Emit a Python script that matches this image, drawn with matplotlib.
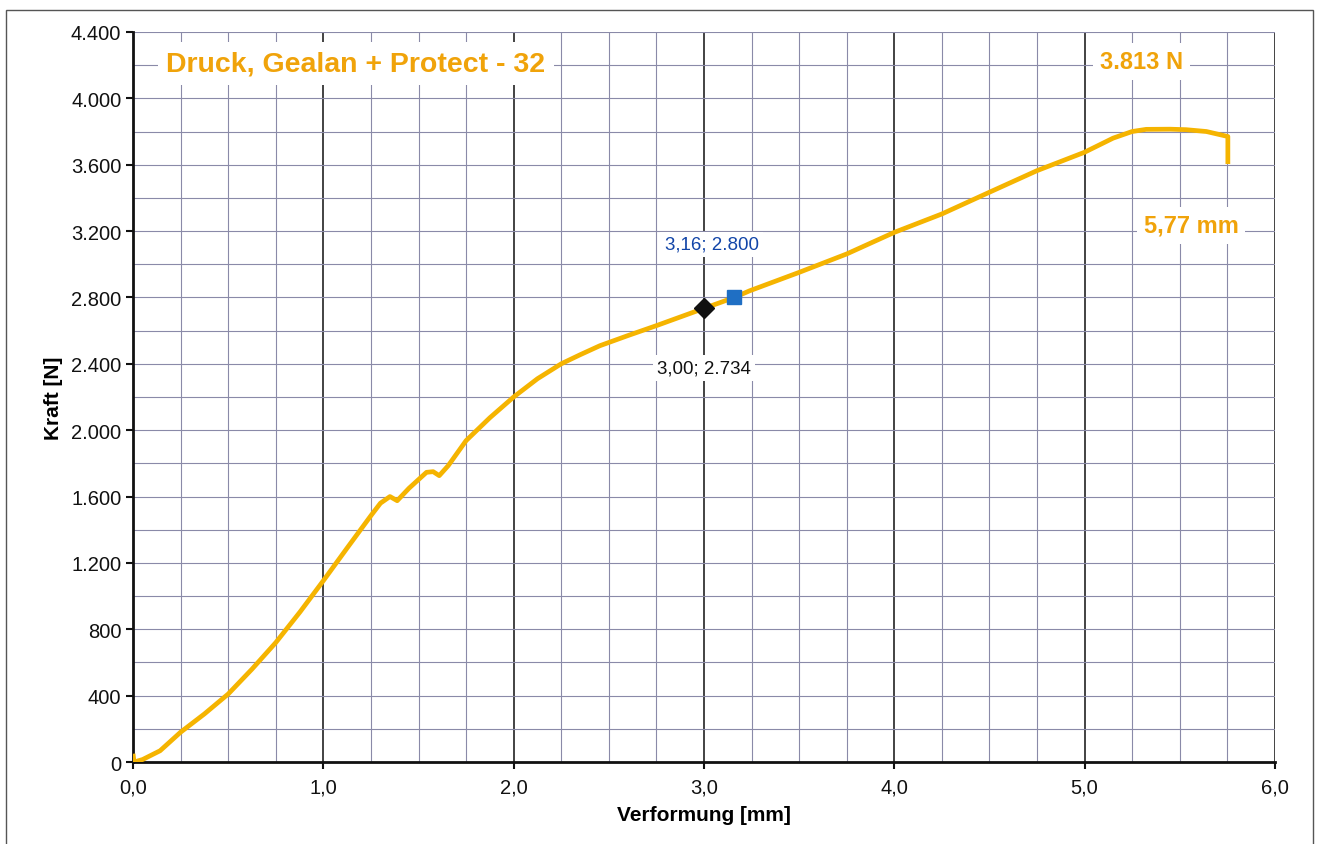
import matplotlib
matplotlib.use('Agg')
import matplotlib.pyplot as plt
from matplotlib.ticker import FuncFormatter, MultipleLocator
from matplotlib.patches import Rectangle

plt.rcParams['font.family'] = ['Liberation Sans', 'DejaVu Sans']

# Kraft-Weg-Kurve
weg = [0.0, 0.005, 0.05, 0.142, 0.25, 0.375, 0.5, 0.625, 0.75, 0.877, 1.0, 1.125,
       1.25, 1.3, 1.35, 1.388, 1.45, 1.542, 1.577, 1.609, 1.656, 1.75, 1.875,
       2.0, 2.125, 2.25, 2.35, 2.453, 2.6, 2.75, 3.0, 3.16, 3.24, 3.5, 3.75,
       4.0, 4.25, 4.5, 4.75, 5.0, 5.15, 5.25, 5.324, 5.45, 5.534, 5.64, 5.753, 5.753]
kraft = [50, 0, 15, 68, 180, 290, 410, 560, 720, 904, 1093, 1290,
         1485, 1560, 1600, 1575, 1650, 1746, 1750, 1726, 1786, 1937, 2075,
         2200, 2310, 2400, 2455, 2509, 2570, 2630, 2734, 2800, 2840, 2951, 3062,
         3192, 3303, 3434, 3564, 3675, 3760, 3800, 3813, 3814, 3811, 3800, 3770, 3604]

titel = 'Druck, Gealan + Protect - 32'
punkt_x = [3.00, 3.16]
punkt_y = [2734, 2800]
punkt_txt = ['3,00; 2.734', '3,16; 2.800']
fmax_txt = '3.813 N'
smax_txt = '5,77 mm'

orange = '#f5b400'
text_orange = '#f0a30a'

fig = plt.figure(figsize=(13.2, 8.45), dpi=100)
ax = fig.add_axes([0.1008, 0.097, 0.865, 0.864])

# Rahmen um die Seite
fig.patches.append(Rectangle((0.0045, -0.01), 0.99, 0.997, transform=fig.transFigure,
                             fill=False, edgecolor='#555555', linewidth=1.0))

ax.plot(weg, kraft, color=orange, linewidth=3.4, zorder=4, solid_capstyle='butt',
        solid_joinstyle='round')
ax.plot(punkt_x[1], punkt_y[1], marker='s', color='#1f6fc4', markersize=10, zorder=5)
ax.plot(punkt_x[0], punkt_y[0], marker='D', color='#111111', markersize=10, zorder=6)

box = dict(facecolor='white', edgecolor='none', pad=3)
ax.text(punkt_x[0], punkt_y[0] - 360, punkt_txt[0], ha='center', va='center',
        fontsize=13.5, color='#111111', bbox=box, zorder=7)
ax.text(punkt_x[1] - 0.12, punkt_y[1] + 320, punkt_txt[1], ha='center', va='center',
        fontsize=13.5, color='#1245a8', bbox=box, zorder=7)
ax.text(1.17, 4210, titel, ha='center', va='center', fontsize=20.5, fontweight='bold',
        color=text_orange, bbox=dict(facecolor='white', edgecolor='none', pad=6), zorder=7)
ax.text(5.3, 4220, fmax_txt, ha='center', va='center', fontsize=17, fontweight='bold',
        color=text_orange, bbox=dict(facecolor='white', edgecolor='none', pad=5), zorder=7)
ax.text(5.56, 3235, smax_txt, ha='center', va='center', fontsize=17, fontweight='bold',
        color=text_orange, bbox=dict(facecolor='white', edgecolor='none', pad=5), zorder=7)

ax.set_xlim(0, 6)
ax.set_ylim(0, 4400)
ax.xaxis.set_major_locator(MultipleLocator(1.0))
ax.xaxis.set_minor_locator(MultipleLocator(0.25))
ax.yaxis.set_major_locator(MultipleLocator(400))
ax.yaxis.set_minor_locator(MultipleLocator(200))
ax.xaxis.set_major_formatter(FuncFormatter(lambda v, p: f'{v:.1f}'.replace('.', ',')))
ax.yaxis.set_major_formatter(FuncFormatter(lambda v, p: f'{int(v):,}'.replace(',', '.')))

ax.grid(True, which='minor', color='#8a8aa8', linewidth=0.8)
ax.grid(True, which='major', axis='y', color='#8a8aa8', linewidth=0.8)
ax.grid(True, which='major', axis='x', color='#222222', linewidth=1.2)
ax.set_axisbelow(True)

for s in ['top', 'right']:
    ax.spines[s].set_visible(False)
for s in ['left', 'bottom']:
    ax.spines[s].set_linewidth(2.0)
    ax.spines[s].set_color('#111111')

ax.tick_params(which='major', length=5, width=1.5, labelsize=14.5, colors='#111111')
ax.tick_params(which='minor', length=0)
ax.tick_params(axis='x', pad=6)

ax.set_xlabel('Verformung [mm]', fontsize=15, fontweight='bold', labelpad=6)
ax.set_ylabel('Kraft [N]', fontsize=15, fontweight='bold', labelpad=6)

fig.savefig('out.png', dpi=100)
